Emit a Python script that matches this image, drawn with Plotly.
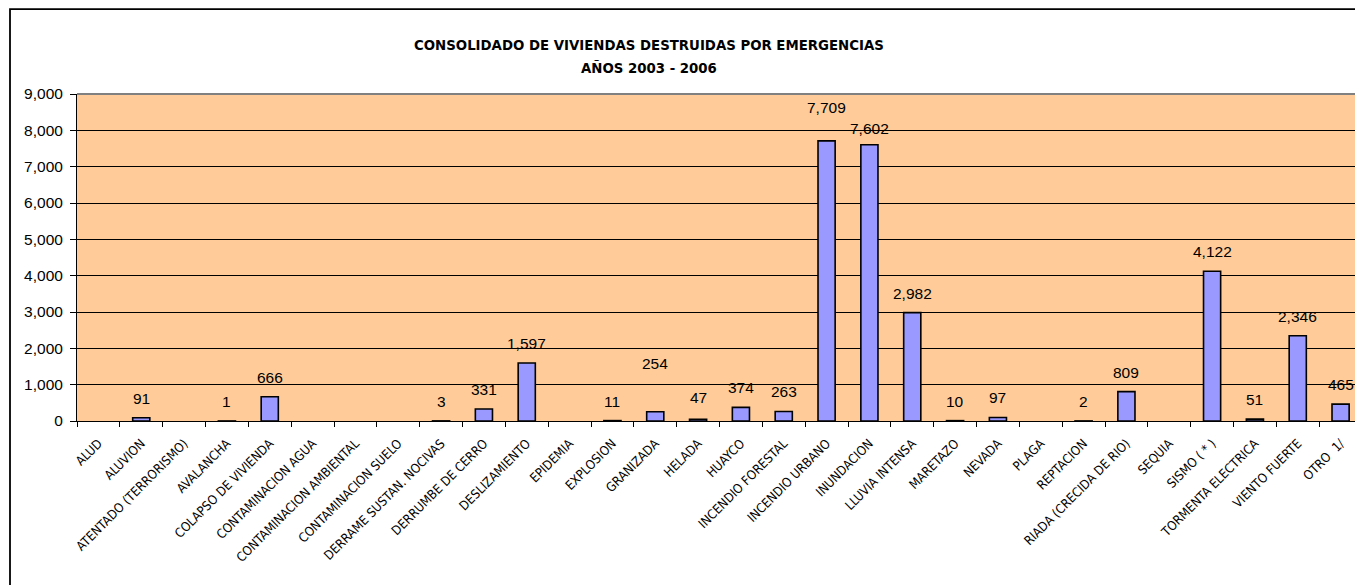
import plotly.graph_objects as go

categories = [
    "ALUD", "ALUVION", "ATENTADO (TERRORISMO)", "AVALANCHA", "COLAPSO DE VIVIENDA",
    "CONTAMINACION AGUA", "CONTAMINACION AMBIENTAL", "CONTAMINACION SUELO",
    "DERRAME SUSTAN. NOCIVAS", "DERRUMBE DE CERRO", "DESLIZAMIENTO", "EPIDEMIA",
    "EXPLOSION", "GRANIZADA", "HELADA", "HUAYCO", "INCENDIO FORESTAL",
    "INCENDIO URBANO", "INUNDACION", "LLUVIA INTENSA", "MARETAZO", "NEVADA",
    "PLAGA", "REPTACION", "RIADA (CRECIDA DE RIO)", "SEQUIA", "SISMO ( * )",
    "TORMENTA ELECTRICA", "VIENTO FUERTE", "OTRO  1/",
]
viviendas = [
    None, 91, None, 1, 666,
    None, None, None,
    3, 331, 1597, None,
    11, 254, 47, 374, 263,
    7709, 7602, 2982, 10, 97,
    None, 2, 809, None, 4122,
    51, 2346, 465,
]
y_ticks = [0, 1000, 2000, 3000, 4000, 5000, 6000, 7000, 8000, 9000]
title_lines = ["CONSOLIDADO DE VIVIENDAS DESTRUIDAS POR EMERGENCIAS", "AÑOS 2003 - 2006"]

# label styling: pixel shift of the value label above the bar top
label_shift_default = 19.5
label_shift_special = {"GRANIZADA": 48, "HELADA": 22, "INCENDIO URBANO": 33, "INUNDACION": 16}

OFF = 8  # page offset of the plot div
W, H = 1363 - OFF, 585 - OFF
ML, MR, MT, MB = 77 - OFF, 1, 94 - OFF, 585 - 421
PW, PH = W - ML - MR, H - MT - MB
Y0 = 421.4 - OFF  # pixel (in figure coords) of the plot bottom

fig = go.Figure()
fig.add_trace(go.Bar(
    x=categories,
    y=viviendas,
    marker=dict(color="#9999FF", line=dict(color="#000000", width=1.6)),
    hoverinfo="x+y",
))

annotations = []
for c, v in zip(categories, viviendas):
    if v is None:
        continue
    annotations.append(dict(
        x=c, y=v, xref="x", yref="y", text=f"{v:,}", showarrow=False,
        yanchor="middle", xanchor="center",
        yshift=label_shift_special.get(c, label_shift_default),
        font=dict(family="Liberation Sans, Arial, sans-serif", size=15.5, color="#000000"),
    ))

for line, ypix in zip(title_lines, [45, 68]):
    annotations.append(dict(
        x=(649 - OFF - ML) / PW, y=(Y0 - (ypix - OFF)) / PH,
        xref="paper", yref="paper", showarrow=False,
        text="<b>" + line + "</b>",
        xanchor="center", yanchor="middle",
        font=dict(family="DejaVu Sans Condensed, sans-serif", size=14.8, color="#000000"),
    ))

shapes = [
    # outer chart frame
    dict(type="rect", xref="paper", yref="paper",
         x0=(10 - OFF - ML) / PW, x1=(W + 20 - ML) / PW,
         y0=(Y0 - (H + 20)) / PH, y1=(Y0 - (9.5 - OFF)) / PH,
         line=dict(color="#000000", width=1.8), fillcolor="rgba(0,0,0,0)", layer="below"),
    # plot area border top/right (grey)
    dict(type="line", xref="paper", yref="paper", x0=0, x1=1, y0=1, y1=1,
         line=dict(color="#808080", width=2), layer="above"),
    dict(type="line", xref="paper", yref="paper", x0=1, x1=1, y0=0, y1=1,
         line=dict(color="#808080", width=2), layer="above"),
]

fig.update_layout(
    width=W, height=H,
    margin=dict(l=ML, r=MR, t=MT, b=MB, autoexpand=False),
    paper_bgcolor="#FFFFFF",
    plot_bgcolor="#FFCC99",
    bargap=0.6,
    showlegend=False,
    annotations=annotations,
    shapes=shapes,
    font=dict(family="Liberation Sans, Arial, sans-serif", color="#000000"),
)
fig.update_xaxes(
    type="category",
    tickangle=-45,
    tickson="boundaries",
    ticks="outside", ticklen=5, tickcolor="#000000", tickwidth=1,
    ticklabelstandoff=9,
    showline=True, linecolor="#000000", linewidth=1,
    showgrid=False,
    tickfont=dict(family="DejaVu Sans Condensed, sans-serif", size=12.8, color="#000000"),
)
fig.update_yaxes(
    range=[0, 9000],
    tickvals=y_ticks,
    tickformat=",d",
    ticks="outside", ticklen=6, tickcolor="#000000", tickwidth=1,
    ticklabelstandoff=4,
    showline=True, linecolor="#000000", linewidth=1,
    showgrid=True, gridcolor="#000000", gridwidth=1,
    zeroline=False,
    tickfont=dict(family="Liberation Sans, Arial, sans-serif", size=15.5, color="#000000"),
)

fig.write_html("out.html")
